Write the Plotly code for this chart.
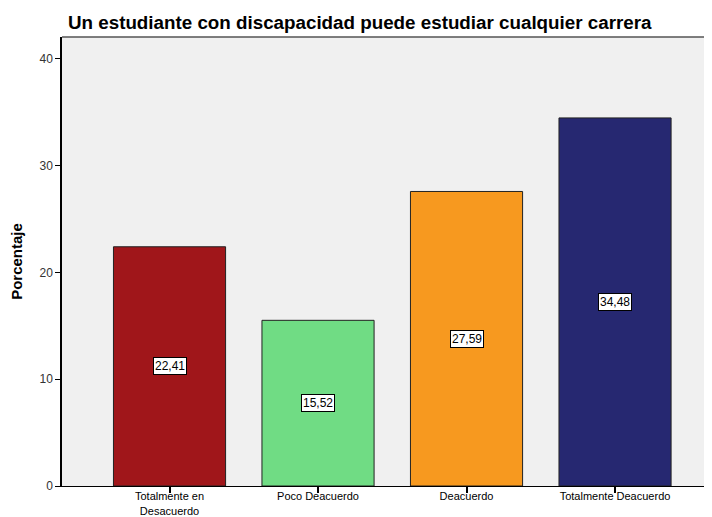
import plotly.graph_objects as go

categories = ["Totalmente en<br>Desacuerdo", "Poco Deacuerdo", "Deacuerdo", "Totalmente Deacuerdo"]
values = [22.41, 15.52, 27.59, 34.48]
labels = ["22,41", "15,52", "27,59", "34,48"]
colors = ["#A0161A", "#70DC84", "#F7991F", "#262871"]
y_ticks = [0, 10, 20, 30, 40]

# the page body has an 8px margin, so the figure is sized and offset to compensate
W, H = 704, 509
XR = [-0.724, 3.653]
pos = list(range(len(categories)))

fig = go.Figure()
fig.add_trace(go.Bar(
    x=pos, y=values,
    marker=dict(color=colors, line=dict(color="#222222", width=1)),
    width=0.755, hoverinfo="skip",
))

for i, (v, lab) in enumerate(zip(values, labels)):
    fig.add_annotation(x=i, y=v / 2, text=lab, showarrow=False,
                       bgcolor="white", bordercolor="black", borderwidth=1, borderpad=1,
                       font=dict(family="Liberation Sans, Arial", size=12, color="black"))

fig.add_shape(type="line", xref="paper", yref="paper", x0=0, x1=1, y0=1, y1=1,
              line=dict(color="#555555", width=1.5))

fig.update_layout(
    width=W, height=H,
    margin=dict(l=54, r=0, t=29, b=31, autoexpand=False),
    paper_bgcolor="white", plot_bgcolor="#F0F0F0",
    showlegend=False,
    title=dict(text="<b>Un estudiante con discapacidad puede estudiar cualquier carrera</b>",
               x=60 / W, xanchor="left", y=1 - 14 / H, yanchor="middle",
               font=dict(family="Liberation Sans, Arial", size=18.8, color="black")),
    xaxis=dict(range=XR, tickvals=pos, ticktext=categories,
               ticks="outside", ticklen=6, tickwidth=1.5, tickcolor="black",
               ticklabelstandoff=-6,
               showgrid=False, zeroline=False,
               showline=True, linecolor="black", linewidth=1, automargin=False,
               tickfont=dict(family="Liberation Sans, Arial", size=11, color="black")),
    yaxis=dict(range=[0, 42.06], tickvals=y_ticks, ticks="outside", ticklen=5, tickcolor="black",
               showgrid=False, zeroline=False, showline=True, linecolor="black", linewidth=1.5,
               automargin=False,
               tickfont=dict(family="Liberation Sans, Arial", size=12, color="#333333"),
               title=dict(text="<b>Porcentaje</b>", standoff=14,
                          font=dict(family="Liberation Sans, Arial", size=15, color="black"))),
)
fig.write_html("out.html")
